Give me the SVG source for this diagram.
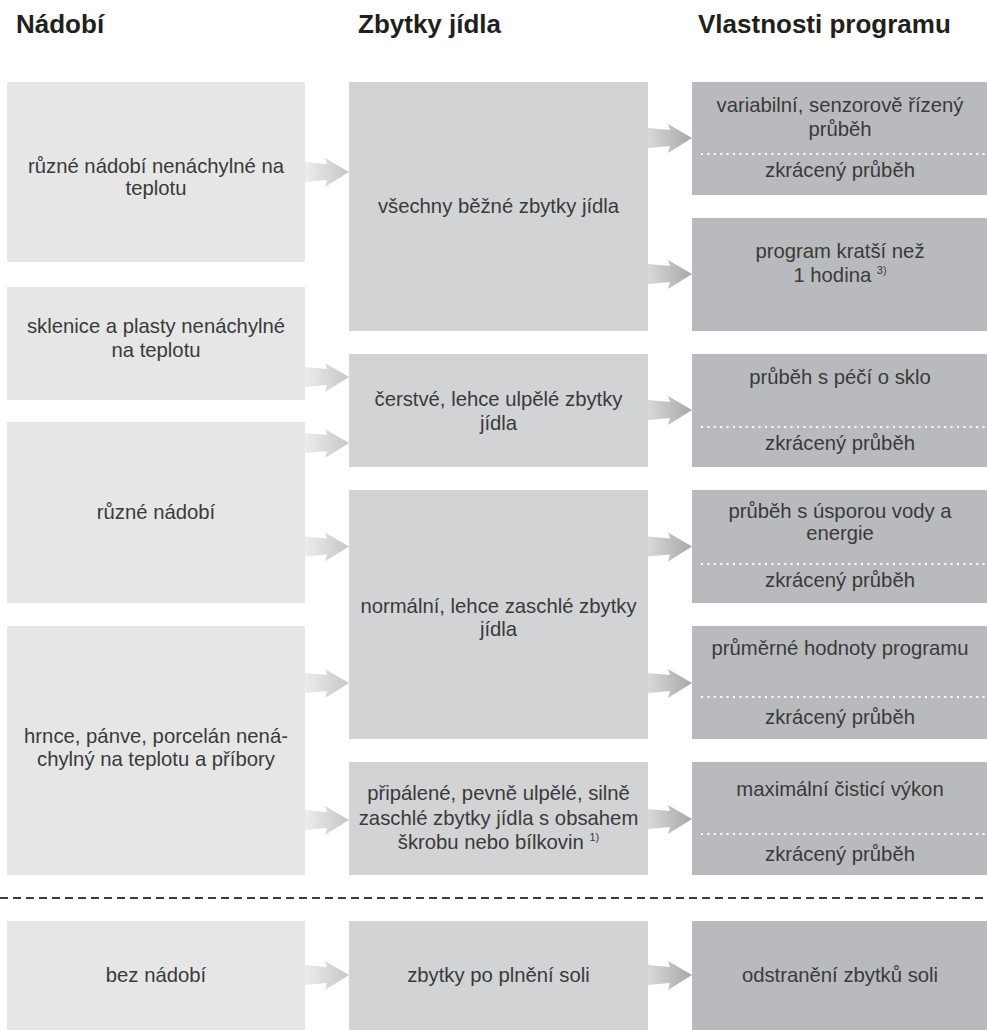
<svg xmlns="http://www.w3.org/2000/svg" width="987" height="1030" viewBox="0 0 987 1030">
<defs>
<linearGradient id="gL" x1="0" y1="0" x2="1" y2="0">
<stop offset="0" stop-color="#ececed"/>
<stop offset="1" stop-color="#c6c6c7"/>
</linearGradient>
<linearGradient id="gR" x1="0" y1="0" x2="1" y2="0">
<stop offset="0" stop-color="#d8d8d9"/>
<stop offset="1" stop-color="#a7a7a9"/>
</linearGradient>
<path id="arr" d="M0,-10 L22,-8 L20,-14 L44,0 L20,15 L22,8 L0,10 Z"/>
</defs>
<style>
.hd{font-family:"Liberation Sans",Arial,sans-serif;font-weight:bold;font-size:26px;fill:#231f20}
.t{font-family:"Liberation Sans",Arial,sans-serif;font-size:20.3px;fill:#3a3a3a;text-anchor:middle}
.sup{font-size:11px}
.bl{fill:#e6e6e7}
.bm{fill:#d2d3d5}
.br{fill:#b9babd}
.dot{stroke:#ffffff;stroke-width:2;stroke-dasharray:2 4.4;fill:none}
.al{fill:url(#gL)}
.ar{fill:url(#gR)}
</style>
<rect width="987" height="1030" fill="#ffffff"/>
<g id="headers">
<text class="hd" x="16" y="33">Nádobí</text>
<text class="hd" x="358" y="33">Zbytky jídla</text>
<text class="hd" x="698" y="33">Vlastnosti programu</text>
</g>
<g id="L1"><rect class="bl" x="7" y="82" width="298" height="180"/><text class="t" x="156" y="173">různé nádobí nenáchylné na</text><text class="t" x="156" y="195">teplotu</text></g>
<g id="L2"><rect class="bl" x="7" y="287" width="298" height="113"/><text class="t" x="156" y="333">sklenice a plasty nenáchylné</text><text class="t" x="156" y="357">na teplotu</text></g>
<g id="L3"><rect class="bl" x="7" y="422" width="298" height="181"/><text class="t" x="156" y="519">různé nádobí</text></g>
<g id="L4"><rect class="bl" x="7" y="626" width="298" height="249"/><text class="t" x="156" y="743">hrnce, pánve, porcelán nená-</text><text class="t" x="156" y="766">chylný na teplotu a příbory</text></g>
<g id="L5"><rect class="bl" x="7" y="921" width="298" height="109"/><text class="t" x="156" y="982">bez nádobí</text></g>
<g id="M1"><rect class="bm" x="349" y="82" width="299" height="249"/><text class="t" x="498.5" y="213">všechny běžné zbytky jídla</text></g>
<g id="M2"><rect class="bm" x="349" y="354" width="299" height="113"/><text class="t" x="498.5" y="406">čerstvé, lehce ulpělé zbytky</text><text class="t" x="498.5" y="430">jídla</text></g>
<g id="M3"><rect class="bm" x="349" y="490" width="299" height="249"/><text class="t" x="498.5" y="613">normální, lehce zaschlé zbytky</text><text class="t" x="498.5" y="636">jídla</text></g>
<g id="M4"><rect class="bm" x="349" y="762" width="299" height="113"/><text class="t" x="498.5" y="800">připálené, pevně ulpělé, silně</text><text class="t" x="498.5" y="825">zaschlé zbytky jídla s obsahem</text><text class="t" x="498.5" y="849">škrobu nebo bílkovin <tspan class="sup" dy="-8">1)</tspan></text></g>
<g id="M5"><rect class="bm" x="349" y="921" width="299" height="109"/><text class="t" x="498.5" y="982">zbytky po plnění soli</text></g>
<g id="R1"><rect class="br" x="692" y="82" width="295" height="113"/><text class="t" x="840" y="112">variabilní, senzorově řízený</text><text class="t" x="840" y="136">průběh</text><line class="dot" x1="701" y1="154" x2="987" y2="154"/><text class="t" x="840" y="177">zkrácený průběh</text></g>
<g id="R2"><rect class="br" x="692" y="218" width="295" height="113"/><text class="t" x="840" y="258">program kratší než</text><text class="t" x="840" y="282">1 hodina <tspan class="sup" dy="-8">3)</tspan></text></g>
<g id="R3"><rect class="br" x="692" y="354" width="295" height="113"/><text class="t" x="840" y="384">průběh s péčí o sklo</text><line class="dot" x1="701" y1="427" x2="987" y2="427"/><text class="t" x="840" y="450">zkrácený průběh</text></g>
<g id="R4"><rect class="br" x="692" y="490" width="295" height="113"/><text class="t" x="840" y="518">průběh s úsporou vody a</text><text class="t" x="840" y="540">energie</text><line class="dot" x1="701" y1="564" x2="987" y2="564"/><text class="t" x="840" y="587">zkrácený průběh</text></g>
<g id="R5"><rect class="br" x="692" y="626" width="295" height="113"/><text class="t" x="840" y="655">průměrné hodnoty programu</text><line class="dot" x1="701" y1="697" x2="987" y2="697"/><text class="t" x="840" y="724">zkrácený průběh</text></g>
<g id="R6"><rect class="br" x="692" y="762" width="295" height="113"/><text class="t" x="840" y="796">maximální čisticí výkon</text><line class="dot" x1="701" y1="834" x2="987" y2="834"/><text class="t" x="840" y="861">zkrácený průběh</text></g>
<g id="R7"><rect class="br" x="692" y="921" width="295" height="109"/><text class="t" x="840" y="982">odstranění zbytků soli</text></g>
<g id="connectors">
<use href="#arr" class="al" transform="translate(305,172)"/>
<use href="#arr" class="al" transform="translate(305,377)"/>
<use href="#arr" class="al" transform="translate(305,443)"/>
<use href="#arr" class="al" transform="translate(305,546.5)"/>
<use href="#arr" class="al" transform="translate(305,683)"/>
<use href="#arr" class="al" transform="translate(305,820)"/>
<use href="#arr" class="al" transform="translate(305,975)"/>
<use href="#arr" class="ar" transform="translate(648,138)"/>
<use href="#arr" class="ar" transform="translate(648,274)"/>
<use href="#arr" class="ar" transform="translate(648,410)"/>
<use href="#arr" class="ar" transform="translate(648,546.5)"/>
<use href="#arr" class="ar" transform="translate(648,683)"/>
<use href="#arr" class="ar" transform="translate(648,819)"/>
<use href="#arr" class="ar" transform="translate(648,975)"/>
</g>
<line id="separator" x1="0" y1="898" x2="987" y2="898" stroke="#3d3d3d" stroke-width="2" stroke-dasharray="8 5"/>
</svg>
